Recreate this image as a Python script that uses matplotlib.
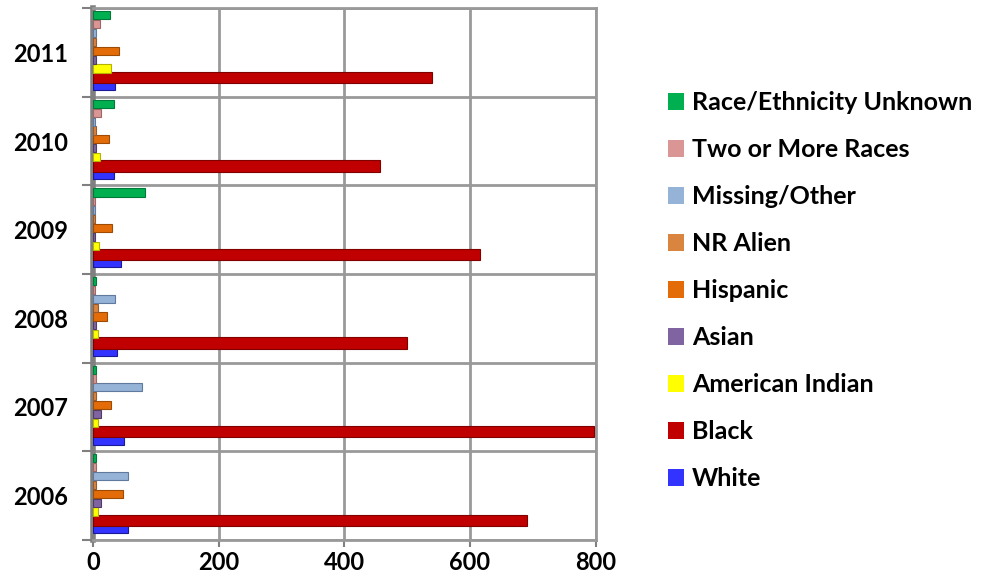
import numpy as np
import matplotlib
matplotlib.use('Agg')
import matplotlib.pyplot as plt
from matplotlib.patches import Patch

years = ['2006', '2007', '2008', '2009', '2010', '2011']

# series in legend order, bottom of each band first
series = ['White', 'Black', 'American Indian', 'Asian', 'Hispanic',
          'NR Alien', 'Missing/Other', 'Two or More Races', 'Race/Ethnicity Unknown']

white = [56, 49, 38, 44, 34, 35]
black = [690, 798, 499, 616, 456, 539]
american_indian = [8, 8, 8, 10, 11, 28]
asian = [12, 12, 5, 3, 5, 5]
hispanic = [48, 28, 22, 30, 26, 41]
nr_alien = [5, 5, 8, 3, 5, 5]
missing_other = [55, 78, 35, 3, 3, 5]
two_or_more = [4, 4, 3, 3, 12, 11]
unknown = [4, 4, 4, 83, 34, 27]

values = [white, black, american_indian, asian, hispanic,
          nr_alien, missing_other, two_or_more, unknown]
colors = ['#3333FF', '#C00000', '#FFFF00', '#8064A2', '#E36C09',
          '#D9843F', '#95B3D7', '#D99694', '#00B050']
edges = ['#1A1A99', '#800000', '#B3B300', '#4F3D66', '#9E4B06',
         '#99592A', '#5F7A9C', '#9E6664', '#007A38']

plt.rcParams['font.family'] = ['Lato', 'DejaVu Sans']
plt.rcParams['font.weight'] = 'bold'

fig = plt.figure(figsize=(10.01, 5.88), dpi=100)
ax = fig.add_axes([0.093, 0.082, 0.502, 0.904])

n = len(series)
y = np.arange(len(years))
step = 0.9 / n
for i in range(n):
    offs = -0.43 + step * (i + 0.5)
    h = step * 1.3 if series[i] == 'Black' else step * 0.92
    ax.barh(y + offs, values[i], height=h, color=colors[i],
            edgecolor=edges[i], linewidth=0.8, zorder=3)

ax.set_xlim(0, 800)
ax.set_ylim(-0.5, len(years) - 0.5)
ax.set_xticks([0, 200, 400, 600, 800])
ax.set_yticks(y)
ax.set_yticklabels(years)
ax.set_yticks(np.arange(-0.5, len(years)), minor=True)
ax.tick_params(axis='y', which='major', length=0, pad=18, labelsize=17)
ax.tick_params(axis='y', which='minor', length=8, width=1.5, color='#808080')
ax.tick_params(axis='x', length=5, width=1.5, color='#808080', labelsize=17, pad=3)
ax.grid(True, axis='x', color='#999999', linewidth=2, zorder=0)
ax.grid(True, axis='y', which='minor', color='#999999', linewidth=2, zorder=0)
for s in ax.spines.values():
    s.set_color('#999999')
    s.set_linewidth(2)
ax.spines['left'].set_color('#808080')
ax.spines['left'].set_linewidth(4)

handles = [Patch(facecolor=colors[i], label=series[i]) for i in range(n)][::-1]
fig.legend(handles=handles, loc='upper left', bbox_to_anchor=(0.645, 0.883),
           frameon=False, fontsize=18, handlelength=0.65, handleheight=0.65,
           handletextpad=0.3, labelspacing=0.96)

fig.savefig('out.png', dpi=100)
